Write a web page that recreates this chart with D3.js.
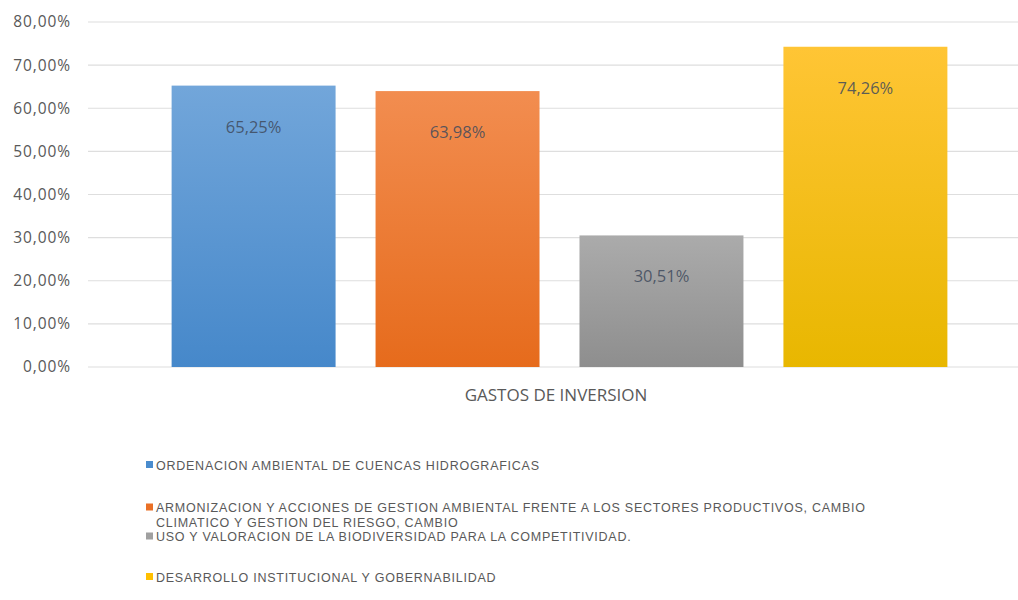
<!DOCTYPE html>
<html><head><meta charset="utf-8">
<script src="https://cdn.jsdelivr.net/npm/d3@7"></script>
<style>
html,body{margin:0;padding:0;background:#fff;}
svg{display:block;}
text{font-family:"Open Sans",sans-serif;}
</style></head>
<body>
<svg id="chart" width="1018" height="600"></svg>
<script>
const category = "GASTOS DE INVERSION";
const series = [
  "ORDENACION AMBIENTAL DE CUENCAS HIDROGRAFICAS",
  "ARMONIZACION Y ACCIONES DE GESTION AMBIENTAL FRENTE A LOS SECTORES PRODUCTIVOS, CAMBIO|CLIMATICO Y GESTION DEL RIESGO, CAMBIO",
  "USO Y VALORACION DE LA BIODIVERSIDAD PARA LA COMPETITIVIDAD.",
  "DESARROLLO INSTITUCIONAL Y GOBERNABILIDAD"
];
const values = [65.25, 63.98, 30.51, 74.26];
const yTicks = [0, 10, 20, 30, 40, 50, 60, 70, 80];
const colorsTop = ["#72a6da", "#f28d50", "#ababab", "#ffc535"];
const colorsBottom = ["#4688ca", "#e66b1c", "#8e8e8e", "#e8b700"];
const legendColors = ["#4a8ccd", "#ea7026", "#a0a0a0", "#ffc000"];

const svg = d3.select("#chart");
const locale = d3.formatLocale({decimal: ",", thousands: ".", grouping: [3], currency: ["", ""]});
const fmt = v => locale.format(".2f")(v) + "%";

const x0 = 88, x1 = 1031;
const y = d3.scaleLinear().domain([0, 80]).range([367, 22]);
const x = d3.scaleBand().domain(series).range([x0, x1]).paddingInner(0.196).paddingOuter(0.41);

// gradients
const defs = svg.append("defs");
series.forEach((s, i) => {
  const g = defs.append("linearGradient").attr("id", "g" + i)
    .attr("x1", 0).attr("y1", 0).attr("x2", 0).attr("y2", 1);
  g.append("stop").attr("offset", "0%").attr("stop-color", colorsTop[i]);
  g.append("stop").attr("offset", "100%").attr("stop-color", colorsBottom[i]);
});

// gridlines
svg.append("g").selectAll("line").data(yTicks).join("line")
  .attr("x1", x0).attr("x2", 1018)
  .attr("y1", d => y(d)).attr("y2", d => y(d))
  .attr("stroke", "#dedede").attr("stroke-width", 1.2);

// y axis labels
const yAxis = d3.axisLeft(y).tickValues(yTicks).tickFormat(fmt).tickSize(0).tickPadding(0);
const ya = svg.append("g").attr("transform", "translate(71,0)").call(yAxis);
ya.select(".domain").remove();
ya.selectAll("text").attr("fill", "#595959").style("font-size", "15.5px")
  .style("font-family", '"Open Sans",sans-serif').attr("letter-spacing", "0.9px");

// bars
svg.append("g").selectAll("rect").data(values).join("rect")
  .attr("x", (d, i) => x(series[i]))
  .attr("width", x.bandwidth())
  .attr("y", d => y(d))
  .attr("height", d => y(0) - y(d))
  .attr("fill", (d, i) => `url(#g${i})`);

// data labels
svg.append("g").selectAll("text").data(values).join("text")
  .attr("x", (d, i) => x(series[i]) + x.bandwidth() / 2)
  .attr("y", d => y(d) + 47)
  .attr("text-anchor", "middle")
  .attr("fill", "#3f4a5c").attr("fill-opacity", 0.85)
  .style("font-size", "16.5px")
  .text(d => fmt(d));

// category label
svg.append("text").attr("x", 556).attr("y", 401)
  .attr("text-anchor", "middle").attr("fill", "#595959")
  .style("font-size", "17px").text(category);

// legend
const legendY = [465, 507.5, 536.5, 577];
const lg = svg.append("g");
series.forEach((s, i) => {
  const lines = s.split("|");
  lg.append("rect").attr("x", 146).attr("y", legendY[i] - 4).attr("width", 7).attr("height", 7)
    .attr("fill", legendColors[i]);
  lines.forEach((ln, j) => {
    lg.append("text").attr("x", 156).attr("y", legendY[i] + 4.5 + j * 14.5)
      .attr("fill", "#595959")
      .style("font-family", '"Liberation Sans",Arial,sans-serif')
      .style("font-size", "12.5px").attr("letter-spacing", "0.75px").text(ln);
  });
});
</script>
</body></html>
